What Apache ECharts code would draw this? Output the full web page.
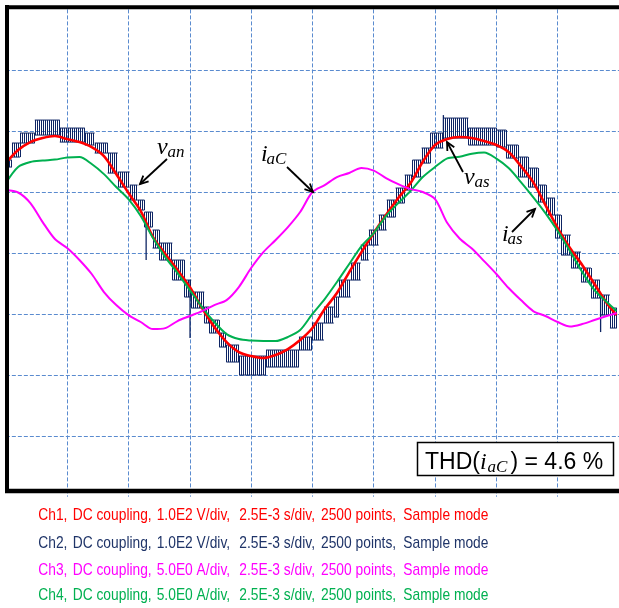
<!DOCTYPE html>
<html><head><meta charset="utf-8">
<script src="https://cdn.jsdelivr.net/npm/echarts@6/dist/echarts.min.js"></script>
<style>html,body{margin:0;padding:0;background:#fff}#c{width:619px;height:608px}</style>
</head><body><div id="c"></div>
<script>
// ---- data (time in ms, voltages in V, currents in A) ----
const timeMs = [0,0.5,1,1.5,2,2.5,3,3.5,4,4.5,5,5.5,6,6.5,7,7.5,8,8.5,9,9.5,10,10.5,11,11.5,12,12.5,13,13.5,14,14.5,15,15.5,16,16.5,17,17.5,18,18.5,19,19.5,20,20.5,21,21.5,22,22.5,23,23.5,24,24.5,24.9];
const vanCh1 = [147.7,169.1,182.2,188.8,192.1,187.1,182.2,174,159.2,129.7,98.5,68.9,26.3,-1.6,-27.9,-55.8,-90.3,-121.5,-146.1,-162.5,-169.1,-172.4,-167.4,-157.6,-142.8,-123,-92,-65.7,-31.2,1.6,32.8,62.4,90.3,114.9,150,177.3,187.1,190.4,188.8,183.8,177.3,165.8,142.8,116.5,78.8,41,8.2,-19.7,-50.9,-82.1,-101.8];
const iaCCh3 = [5.17,4.97,4.1,2.54,1.15,0.41,-0.57,-1.72,-3.2,-4.27,-5.09,-5.66,-6.24,-6.16,-5.58,-5.17,-4.76,-4.27,-3.86,-2.79,-1.23,0.08,1.07,2.13,3.37,5.01,5.58,6.24,6.57,6.98,6.77,6.16,5.66,5.25,5.01,4.43,2.46,1.19,0.37,-0.66,-1.72,-2.87,-3.86,-4.76,-5.17,-5.66,-6.03,-5.83,-5.5,-5.17,-4.92];
const iasCh4 = [5.75,7.06,7.47,7.59,7.67,7.84,7.88,7.31,6.48,5.42,4.43,3.04,1.23,-0.33,-1.64,-3.04,-4.43,-5.66,-6.65,-7.06,-7.18,-7.22,-7.22,-6.89,-6.32,-5.0,-3.78,-2.38,-0.9,0.57,1.64,3.04,4.1,5.09,6.24,7.06,7.77,7.9,8.15,8.25,7.75,6.98,5.83,4.6,3.28,1.81,0.16,-1.56,-3.04,-4.02,-4.76];
// Ch2 multilevel output: [tStart, tEnd, lowerLevel V, upperLevel V] (PWM between two levels)
const vasCh2Steps = [
[0.05,0.25,141.2,152.7],[0.25,0.58,157.6,180.6],[0.58,1.18,180.6,197],[1.18,2.2,193.7,218.3],
[2.2,3.22,182.2,205.2],[3.22,3.62,177.3,197],[3.62,4.15,164.2,180.6],[4.15,4.56,131.3,164.2],
[4.56,5.05,108.3,133],[5.05,5.37,87,111.6],[5.37,5.65,70.6,87],[5.65,5.98,42.7,67.3],
[5.72,5.72,-11.5,49.2],[5.98,6.26,8.2,37.8],[6.26,6.79,-11.5,16.4],[6.79,7.28,-44.3,-11.5],
[7.28,7.56,-72.2,-44.3],[7.51,7.51,-139.5,-44.3],[7.56,8.09,-90.3,-64],[8.09,8.29,-114.9,-88.6],
[8.29,8.7,-131.3,-110],[8.7,8.99,-154.3,-131.3],[8.99,9.51,-178.9,-151],[9.51,10.61,-200.3,-169.1],
[10.61,11.95,-187.1,-159.2],[11.95,12.48,-159.2,-137.9],[12.48,12.97,-142.8,-114.9],[12.97,13.37,-114.9,-88.6],
[13.37,13.58,-105.1,-72.2],[13.58,14.06,-72.2,-44.3],[14.06,14.47,-44.3,-16.4],[14.47,14.8,-11.5,13.1],
[14.8,15.2,13.1,37.8],[15.2,15.53,37.8,62.4],[15.53,15.89,59.1,87],[15.89,16.26,82.1,106.7],
[16.26,16.58,103.4,128],[16.58,16.95,124.8,152.7],[16.95,17.31,147.7,172.4],[17.31,17.84,172.4,197],
[17.84,17.84,185.5,226.5],[17.84,18.86,188.8,221.6],[18.86,20.0,177.3,205.2],[20.0,20.4,174,201.9],
[20.4,20.89,155.9,177.3],[20.89,21.3,124.8,157.6],[21.3,21.7,108.3,139.5],[21.7,22.03,83.7,111.6],
[22.03,22.39,62.4,90.3],[22.39,22.64,24.6,62.4],[22.64,23.04,-3.3,29.5],[23.04,23.45,-24.6,1.6],
[23.45,23.86,-47.6,-24.6],[23.86,24.22,-73.9,-44.3],[24.22,24.63,-101.8,-68.9],[24.25,24.25,-129.7,-68.9],
[24.63,24.91,-123.1,-90.3]
];
const channelNames = ['Ch1','Ch2','Ch3','Ch4'];
const channelCoupling = 'DC coupling';
const channelScales = ['1.0E2 V/div','1.0E2 V/div','5.0E0 A/div','5.0E0 A/div'];
const timeScale = '2.5E-3 s/div';
const recordLength = '2500 points';
const acqMode = 'Sample mode';
const thdText = ') = 4.6 %';

// ---- styling ----
const COL = {ch1:'#ff0000', ch2:'#0d2463', ch3:'#ff00ff', ch4:'#00b050', grid:'#5a8bcf', ch2txt:'#1f3468'};
const SANS = '"Liberation Sans", Arial, sans-serif';
const SERIF = '"Liberation Serif", "Times New Roman", serif';

const zip = (xs, ys) => xs.map((x, i) => [x, ys[i]]);

function arrow(x1, y1, x2, y2) {
  const a = Math.atan2(y2 - y1, x2 - x1), L = 9, h = 0.45;
  const p1 = [x2 - L * Math.cos(a - h), y2 - L * Math.sin(a - h)];
  const p2 = [x2 - L * Math.cos(a + h), y2 - L * Math.sin(a + h)];
  return [
    {type:'line', z:100, shape:{x1, y1, x2, y2}, style:{stroke:'#000', lineWidth:1.8}},
    {type:'polyline', z:100, shape:{points:[p1, [x2, y2], p2]}, style:{stroke:'#000', lineWidth:1.8, fill:null}}
  ];
}
function txt(text, x, y, font, fill, extra) {
  return Object.assign({type:'text', z:100, x, y,
    style:{text, font, fill: fill || '#000', align:'left', verticalAlign:'middle'}}, extra || {});
}
function label(main, sub, x, y) {
  return [
    txt(main, x, y, 'italic 24px ' + SERIF),
    txt(sub, x + (main === 'v' ? 10.5 : 5.5), y + 4.5, 'italic 17px ' + SERIF)
  ];
}

const graphics = [];
// frame
graphics.push({type:'line', z:90, shape:{x1:7, y1:5, x2:7, y2:493}, style:{stroke:'#000', lineWidth:4}});
graphics.push({type:'line', z:90, shape:{x1:5, y1:7.3, x2:619, y2:7.3}, style:{stroke:'#000', lineWidth:4}});
graphics.push({type:'line', z:90, shape:{x1:5, y1:491, x2:619, y2:491}, style:{stroke:'#000', lineWidth:4.5}});
// annotations
graphics.push(...label('v', 'an', 157, 148));
graphics.push(...arrow(167, 159, 140, 184));
graphics.push(...label('i', 'aC', 261, 155));
graphics.push(...arrow(287, 167, 313, 192));
graphics.push(...label('v', 'as', 464, 178));
graphics.push(...arrow(463, 172, 447, 142));
graphics.push(...label('i', 'as', 502, 235));
graphics.push(...arrow(512, 232, 535, 209));
// THD box
graphics.push({type:'rect', z:95, shape:{x:417.5, y:442.5, width:196, height:33}, style:{fill:'#fff', stroke:'#000', lineWidth:1.5}});
graphics.push(txt('THD(', 425, 463, '23px ' + SANS));
graphics.push(txt('i', 480, 463, 'italic 24px ' + SERIF));
graphics.push(txt('aC', 487.5, 468, 'italic 17px ' + SERIF));
graphics.push(txt(thdText, 510.5, 463, '23px ' + SANS));
// channel settings text
const segX = [38.3, 72.7, 156.7, 239.3, 321, 403.3];
const lineY = [516, 544, 571, 596];
const lineCol = [COL.ch1, COL.ch2txt, COL.ch3, COL.ch4];
channelNames.forEach((ch, i) => {
  const segs = [ch + ',', channelCoupling + ',', channelScales[i] + ',', timeScale + ',', recordLength + ',', acqMode];
  segs.forEach((s, j) => graphics.push(txt(s, segX[j], lineY[i], '15px ' + SANS, lineCol[i], {scaleX:0.92, scaleY:1.08})));
});

function renderSteps(params, api) {
  const t0 = api.value(0), t1 = api.value(1), lo = api.value(2), hi = api.value(3);
  const a = api.coord([t0, hi]), b = api.coord([t1, lo]);
  const st = {stroke: COL.ch2, lineWidth: 1};
  const ch = [];
  if (b[0] - a[0] < 0.5) {
    ch.push({type:'line', shape:{x1:a[0], y1:a[1], x2:a[0], y2:b[1]}, style:{stroke: COL.ch2, lineWidth: 1.3}});
  } else {
    ch.push({type:'line', shape:{x1:a[0], y1:a[1], x2:b[0], y2:a[1]}, style:st});
    ch.push({type:'line', shape:{x1:a[0], y1:b[1], x2:b[0], y2:b[1]}, style:st});
    for (let x = Math.round(a[0]); x <= b[0] + 0.01; x += 2) {
      ch.push({type:'line', shape:{x1:x + 0.5, y1:a[1], x2:x + 0.5, y2:b[1]}, style:st});
    }
  }
  return {type:'group', children: ch};
}

const chart = echarts.init(document.getElementById('c'), null, {renderer:'canvas'});
const splitStyle = {show:true, lineStyle:{color:COL.grid, type:[4,2], width:1}};
chart.setOption({
  animation:false,
  backgroundColor:'#fff',
  grid:{left:5.85, top:9.4, width:615.3, height:487.3, show:false},
  xAxis:{type:'value', min:0, max:25, interval:2.5, axisLine:{show:false}, axisTick:{show:false}, axisLabel:{show:false},
    splitLine:Object.assign({showMinLine:false, showMaxLine:false}, splitStyle)},
  yAxis:[
    {type:'value', min:-400, max:400, interval:100, axisLine:{show:false}, axisTick:{show:false}, axisLabel:{show:false},
      splitLine:Object.assign({showMinLine:false, showMaxLine:false}, splitStyle)},
    {type:'value', min:-20, max:20, interval:5, show:false, splitLine:{show:false}}
  ],
  series:[
    {type:'custom', name:'Ch2', renderItem:renderSteps, data:vasCh2Steps, encode:{x:[0,1], y:[2,3]}, z:2, silent:true},
    {type:'line', name:'Ch1', data:zip(timeMs, vanCh1), showSymbol:false, smooth:0.3, z:3,
      lineStyle:{color:COL.ch1, width:2.6}},
    {type:'line', name:'Ch4', yAxisIndex:1, data:zip(timeMs, iasCh4), showSymbol:false, smooth:0.3, z:4,
      lineStyle:{color:COL.ch4, width:2}},
    {type:'line', name:'Ch3', yAxisIndex:1, data:zip(timeMs, iaCCh3), showSymbol:false, smooth:0.3, z:5,
      lineStyle:{color:COL.ch3, width:2}}
  ],
  graphic: graphics
});
</script></body></html>
